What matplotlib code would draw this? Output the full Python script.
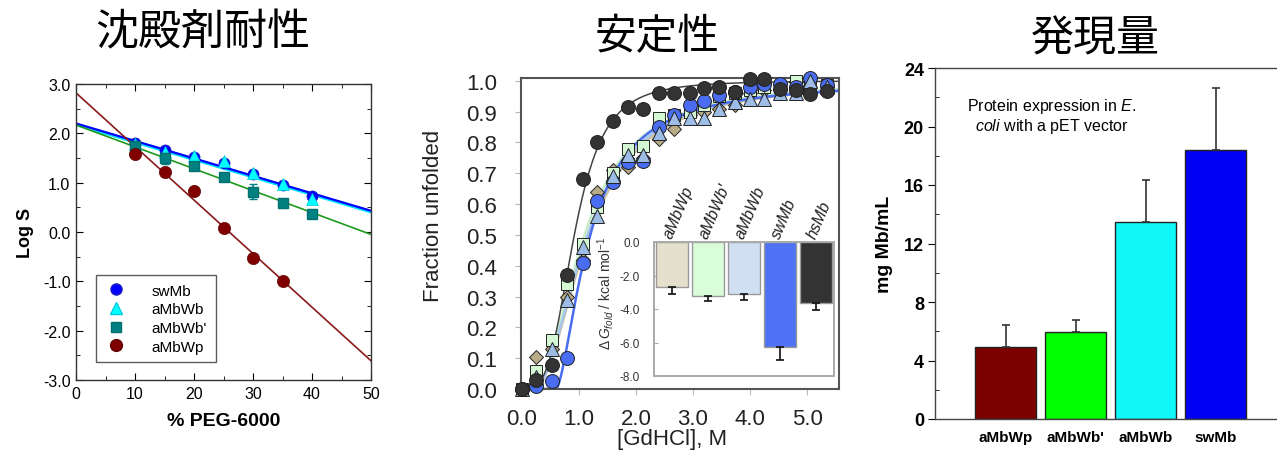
import numpy as np
import matplotlib
matplotlib.use("Agg")
import matplotlib.pyplot as plt
from matplotlib.lines import Line2D
from matplotlib.ticker import MultipleLocator, FormatStrFormatter
import matplotlib.transforms as mtransforms

plt.rcParams['font.family'] = ['Liberation Sans', 'Noto Sans CJK JP', 'DejaVu Sans']
plt.rcParams['axes.unicode_minus'] = False
plt.rcParams['mathtext.fontset'] = 'custom'
plt.rcParams['mathtext.rm'] = 'Liberation Sans'
plt.rcParams['mathtext.it'] = 'Liberation Sans:italic'

# ---------------- Panel 1 data (precipitant tolerance) ----------------
peg_x = [10, 15, 20, 25, 30, 35, 40]
logS_swMb = [1.80, 1.67, 1.53, 1.40, 1.18, 0.96, 0.72]
logS_aMbWb = [1.78, 1.63, 1.55, 1.43, 1.20, 0.98, 0.67]
logS_aMbWb2 = [1.74, 1.49, 1.33, 1.11, 0.82, 0.59, 0.36]
logS_aMbWb2_err = [0.03, 0.12, 0.04, 0.04, 0.15, 0.03, 0.03]
peg_x_wp = [10, 15, 20, 25, 30, 35]
logS_aMbWp = [1.59, 1.21, 0.84, 0.09, -0.53, -0.99]
fit_names = ['swMb', 'aMbWb', "aMbWb'", 'aMbWp']
fit_intercept = [2.20, 2.18, 2.17, 2.82]
fit_slope = [-0.0354, -0.0354, -0.0444, -0.1086]

# ---------------- Panel 2 data (stability) ----------------
gd_x = [0.0, 0.25, 0.53, 0.8, 1.07, 1.32, 1.6, 1.86, 2.12, 2.4, 2.66, 2.94,
        3.2, 3.46, 3.73, 4.0, 4.25, 4.53, 4.8, 5.06, 5.35]
fu_hsMb = [0.0, 0.03, 0.078, 0.37, 0.68, 0.80, 0.87, 0.915, 0.908, 0.96, 0.96, 0.96,
           0.976, 0.98, 0.965, 1.005, 1.005, 0.973, 0.97, 0.957, 0.967]
fu_swMb = [0.0, 0.01, 0.027, 0.10, 0.41, 0.61, 0.67, 0.735, 0.74, 0.85, 0.89, 0.92,
           0.935, 0.955, 0.965, 0.98, 0.99, 0.99, 0.98, 1.01, 0.985]
fu_aMbWb = [0.0, 0.04, 0.13, 0.29, 0.46, 0.56, 0.69, 0.76, 0.76, 0.83, 0.88, 0.88,
            0.88, 0.91, 0.93, 0.94, 0.94, 0.96, 0.96, 1.0, 0.98]
fu_aMbWb2 = [0.0, 0.06, 0.16, 0.34, 0.47, 0.59, 0.70, 0.78, 0.79, 0.88, 0.89, 0.90,
             0.92, 0.95, 0.96, 0.97, 0.98, 0.98, 1.0, 0.99, 0.985]
fu_aMbWp = [0.0, 0.105, 0.13, 0.30, 0.42, 0.64, 0.71, 0.72, 0.75, 0.81, 0.845, 0.89,
            0.90, 0.91, 0.92, 0.96, 0.97, 0.97, 0.995, 0.98, 0.98]
# fitted curve parameters (offset x0, midpoint c, exponent n)
curve_x0 = {'hsMb': 0.0, 'swMb': 0.6, 'aMbWb': 0.2, "aMbWb'": 0.2, 'aMbWp': 0.2}
curve_c = {'hsMb': 0.92, 'swMb': 0.6, 'aMbWb': 0.95, "aMbWb'": 0.9, 'aMbWp': 0.98}
curve_n = {'hsMb': 3.5, 'swMb': 1.6, 'aMbWb': 2.0, "aMbWb'": 2.0, 'aMbWp': 2.0}

inset_names = ['aMbWp', "aMbWb'", 'aMbWb', 'swMb', 'hsMb']
inset_dG = [-2.7, -3.2, -3.1, -6.25, -3.65]
inset_err = [0.4, 0.35, 0.38, 0.82, 0.43]

# ---------------- Panel 3 data (expression) ----------------
expr_names = ['aMbWp', "aMbWb'", 'aMbWb', 'swMb']
expr_vals = [4.9, 5.95, 13.45, 18.4]
expr_err = [1.55, 0.8, 2.9, 4.2]

W, H = 1277, 452
fig = plt.figure(figsize=(W / 100, H / 100), dpi=100)


def px_axes(l, t, r, b):
    return fig.add_axes([l / W, (H - b) / H, (r - l) / W, (b - t) / H])


# ================= Panel 1 =================
ax1 = px_axes(76, 85, 371, 381)
xx = np.array([0, 50])
line_cols = ['#0000ff', '#00e5ff', '#1e9a1e', '#8b1a1a']
lws = [1.6, 2.4, 1.2, 1.2]
order = [1, 0, 2, 3]
for i in order:
    ax1.plot(xx, fit_intercept[i] + fit_slope[i] * xx, color=line_cols[i], lw=lws[i], zorder=2)
ax1.plot(peg_x, logS_swMb, 'o', ms=8, mfc='#0000ff', mec='#2020c0', mew=0.5, zorder=3)
ax1.plot(peg_x, logS_aMbWb, '^', ms=8, mfc='#00ffff', mec='#00c8e0', mew=0.5, zorder=4)
ax1.errorbar(peg_x, logS_aMbWb2, yerr=logS_aMbWb2_err, fmt='s', ms=6.5, mfc='#008080',
             mec='#007070', ecolor='#008080', capsize=3, elinewidth=1.2, zorder=5)
ax1.plot(peg_x_wp, logS_aMbWp, 'o', ms=8.8, mfc='#800000', mec='#600000', mew=0.5, zorder=6)
ax1.set_xlim(0, 50)
ax1.set_ylim(-3, 3)
ax1.xaxis.set_major_locator(MultipleLocator(10))
ax1.xaxis.set_minor_locator(MultipleLocator(5))
ax1.yaxis.set_major_locator(MultipleLocator(1))
ax1.yaxis.set_minor_locator(MultipleLocator(0.5))
ax1.yaxis.set_major_formatter(FormatStrFormatter('%.1f'))
ax1.tick_params(which='both', direction='in', top=True, right=True, labelsize=11.5, pad=4)
ax1.tick_params(which='major', length=5)
ax1.tick_params(which='minor', length=3)
for s in ax1.spines.values():
    s.set_color('#333333')
    s.set_linewidth(1.0)
ax1.set_xlabel('% PEG-6000', fontsize=14, fontweight='bold', labelpad=8)
ax1.set_ylabel('Log S', fontsize=13, fontweight='bold', labelpad=6)
handles = [
    Line2D([], [], ls='none', marker='o', ms=8, mfc='#0000ff', mec='#2020c0'),
    Line2D([], [], ls='none', marker='^', ms=8, mfc='#00ffff', mec='#00c8e0'),
    Line2D([], [], ls='none', marker='s', ms=6.5, mfc='#008080', mec='#007070'),
    Line2D([], [], ls='none', marker='o', ms=8.5, mfc='#800000', mec='#600000'),
]
leg = ax1.legend(handles, fit_names, loc='lower left', bbox_to_anchor=(0.068, 0.061),
                 borderaxespad=0, fontsize=11, frameon=True, fancybox=False,
                 edgecolor='#333333', handletextpad=1.6, borderpad=0.55, labelspacing=0.3,
                 handlelength=1.5)
leg.get_frame().set_linewidth(1.0)

# ================= Panel 2 =================
ax2 = px_axes(520.7, 79, 839, 390)
xc = np.linspace(0, 5.6, 400)


def curve(name):
    d = np.clip(xc - curve_x0[name], 0, None)
    return d ** curve_n[name] / (curve_c[name] ** curve_n[name] + d ** curve_n[name])


ax2.plot(xc, curve('aMbWp'), color='#c9c0a2', lw=1.8, zorder=2)
ax2.plot(xc, curve("aMbWb'"), color='#c6ecc6', lw=1.8, zorder=2)
ax2.plot(xc, curve('aMbWb'), color='#a6c6ee', lw=1.8, zorder=2)
ax2.plot(xc, curve('swMb'), color='#4a6cf0', lw=1.8, zorder=2)
ax2.plot(xc, curve('hsMb'), color='#444444', lw=1.1, zorder=2)
mk = dict(ls='none', mew=0.7, mec='#222222', clip_on=False)
ax2.plot(gd_x, fu_aMbWp, marker='D', ms=7.5, mfc='#b8ab88', zorder=3, **mk)
ax2.plot(gd_x, fu_aMbWb2, marker='s', ms=8.5, mfc='#d4f7d4', zorder=4, **mk)
ax2.plot(gd_x, fu_swMb, marker='o', ms=10, mfc='#4a6cf0', zorder=5, **mk)
ax2.plot(gd_x, fu_aMbWb, marker='^', ms=10, mfc='#9dbde6', zorder=6, **mk)
ax2.plot(gd_x, fu_hsMb, marker='o', ms=10, mfc='#333333', zorder=7, **mk)
ax2.set_xlim(-0.02, 5.56)
ax2.set_ylim(0, 1.009)
ax2.set_xticks([0, 1, 2, 3, 4, 5])
ax2.set_yticks(np.round(np.arange(0, 1.01, 0.1), 1))
ax2.xaxis.set_major_formatter(FormatStrFormatter('%.1f'))
ax2.yaxis.set_major_formatter(FormatStrFormatter('%.1f'))
ax2.tick_params(direction='out', length=4, color='#bbbbbb', labelsize=16,
                labelcolor='#222222')
ax2.tick_params(axis='y', pad=13)
ax2.tick_params(axis='x', pad=10)
for s in ax2.spines.values():
    s.set_color('#555555')
    s.set_linewidth(1.5)
ax2.set_ylabel('Fraction unfolded', fontsize=16, color='#222222')
ax2.yaxis.set_label_coords(-0.241, 0.56)
fig.text(672 / W, (H - 450) / H, '[GdHCl], M', fontsize=16, color='#222222',
         ha='center', va='bottom')

# inset
axi = px_axes(654, 243, 834, 377)
axi.set_facecolor('white')
ipos = np.arange(len(inset_names))
inset_cols = ['#e4e0cc', '#d9fcd9', '#d0e0f2', '#5073f5', '#333333']
axi.bar(ipos, inset_dG, width=0.89, color=inset_cols, edgecolor='#999999', linewidth=1.0,
        zorder=2)
axi.errorbar(ipos, inset_dG, yerr=[inset_err, [0] * len(ipos)], fmt='none', ecolor='#111111',
             elinewidth=1.2, capsize=3, capthick=1.2, zorder=3)
axi.set_xlim(-0.5, 4.5)
axi.set_ylim(-8, 0)
axi.set_xticks([])
axi.set_yticks([0, -2, -4, -6, -8])
axi.yaxis.set_major_formatter(FormatStrFormatter('%.1f'))
axi.tick_params(axis='y', direction='in', length=3, color='#aaaaaa', labelsize=8.5,
                labelcolor='#333333', pad=10)
for s in axi.spines.values():
    s.set_color('#aaaaaa')
    s.set_linewidth(1.4)
off = mtransforms.offset_copy(axi.transData, fig=fig, x=0, y=3, units='dots')
for i, name in enumerate(inset_names):
    axi.text(ipos[i], 0, name, rotation=67, rotation_mode='anchor', ha='left',
             va='baseline', fontsize=11.5, style='italic', color='#222222', transform=off)
fig.text(605 / W, (H - 293) / H, r'$\Delta\,G_{fold}$ / kcal mol$^{-1}$', rotation=90,
         ha='center', va='center', fontsize=10, color='#333333')

# ================= Panel 3 =================
ax3 = px_axes(935, 69, 1280, 420)
epos = np.arange(len(expr_names))
expr_cols = ['#7b0000', '#00ff00', '#10f8f8', '#0000f5']
ax3.bar(epos, expr_vals, width=0.88, color=expr_cols, edgecolor='#222222', linewidth=1.0,
        zorder=2)
ax3.errorbar(epos, expr_vals, yerr=[[0] * len(epos), expr_err], fmt='none',
             ecolor='#333333', elinewidth=1.2, capsize=3, capthick=1.2, zorder=3)
ax3.set_xlim(-1.01, 3.92)
ax3.set_ylim(0, 24)
ax3.set_xticks(epos)
ax3.set_xticklabels(expr_names, fontsize=11, fontweight='bold')
ax3.yaxis.set_major_locator(MultipleLocator(4))
ax3.yaxis.set_minor_locator(MultipleLocator(2))
ax3.tick_params(axis='x', length=0, pad=8)
ax3.tick_params(axis='y', which='major', direction='out', length=5, labelsize=13, pad=3)
ax3.tick_params(axis='y', which='minor', direction='in', length=3)
for lab in ax3.get_yticklabels():
    lab.set_fontweight('bold')
ax3.spines['right'].set_visible(False)
for s in ['left', 'top', 'bottom']:
    ax3.spines[s].set_color('#444444')
    ax3.spines[s].set_linewidth(1.0)
ax3.set_ylabel('mg Mb/mL', fontsize=14, fontweight='bold')
ax3.yaxis.set_label_coords(-0.122, 0.5)
ax3.text(1052 / W, (H - 106) / H, 'Protein expression in $\\mathit{E.}$', transform=fig.transFigure,
         ha='center', va='center', fontsize=11.5)
ax3.text(1052 / W, (H - 127) / H, '$\\mathit{coli}$ with a pET vector', transform=fig.transFigure,
         ha='center', va='center', fontsize=11.5)

# ================= Titles =================
fig.text(203 / W, (H - 33) / H, '沈殿剤耐性', fontsize=31, ha='center', va='center',
         family=['Noto Sans CJK JP'])
fig.text(657 / W, (H - 38) / H, '安定性', fontsize=30, ha='center', va='center',
         family=['Noto Sans CJK JP'])
fig.text(1095 / W, (H - 39) / H, '発現量', fontsize=31, ha='center', va='center',
         family=['Noto Sans CJK JP'])

fig.savefig('out.png', dpi=100)
